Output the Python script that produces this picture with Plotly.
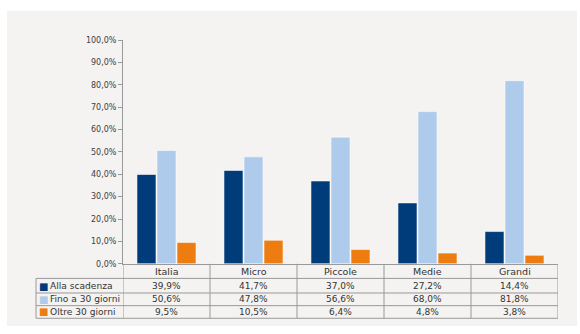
import plotly.graph_objects as go

categories = ["Italia", "Micro", "Piccole", "Medie", "Grandi"]
series_names = ["Alla scadenza", "Fino a 30 giorni", "Oltre 30 giorni"]
alla_scadenza = [39.9, 41.7, 37.0, 27.2, 14.4]
fino_30 = [50.6, 47.8, 56.6, 68.0, 81.8]
oltre_30 = [9.5, 10.5, 6.4, 4.8, 3.8]
y_ticks = [0, 10, 20, 30, 40, 50, 60, 70, 80, 90, 100]

colors = ["#003b7a", "#aecbeb", "#ee7d11"]
series_values = [alla_scadenza, fino_30, oltre_30]
BG = "#f4f3f1"
GRID = "#999999"
TXT = "#333333"
W, H = 580, 334
FONT = "DejaVu Sans"

def fmt(v):
    return f"{v:.1f}".replace(".", ",") + "%"

def py(pix):
    return (H - pix) / H

fig = go.Figure()
for name, vals, col in zip(series_names, series_values, colors):
    fig.add_trace(go.Bar(
        x=categories, y=vals, name=name,
        marker=dict(color=col, line=dict(color="rgba(255,255,255,0.55)", width=1)),
        showlegend=False, hoverinfo="x+y"))

# ---- data table drawn with annotations and shapes ----
header_y = py(275)
row_y = [py(290), py(303.5), py(316.5)]
row_lines = [282, 297, 310, 323]
annotations = []
shapes = [dict(type="rect", xref="paper", yref="paper",
               x0=7 / W, x1=577 / W, y0=py(331), y1=py(7),
               fillcolor=BG, line=dict(width=0), layer="below")]

for cat in categories:
    annotations.append(dict(x=cat, y=header_y, xref="x", yref="paper", text=cat,
                            showarrow=False, xanchor="center", yanchor="middle",
                            font=dict(family=FONT, size=9.5, color=TXT)))
for r, (name, vals, col) in enumerate(zip(series_names, series_values, colors)):
    annotations.append(dict(x=37 / W, y=row_y[r], xref="paper", yref="paper",
                            text="■", showarrow=False, xanchor="left", yanchor="middle",
                            font=dict(family=FONT, size=10, color=col)))
    annotations.append(dict(x=47.5 / W, y=row_y[r], xref="paper", yref="paper",
                            text=name, showarrow=False, xanchor="left", yanchor="middle",
                            font=dict(family=FONT, size=9.1, color=TXT)))
    for cat, v in zip(categories, vals):
        annotations.append(dict(x=cat, y=row_y[r], xref="x", yref="paper", text=fmt(v),
                                showarrow=False, xanchor="center", yanchor="middle",
                                font=dict(family=FONT, size=9, color=TXT)))

line_style = dict(color=GRID, width=1)
# horizontal table lines
for yl in row_lines:
    shapes.append(dict(type="line", xref="paper", yref="paper",
                       x0=36 / W, x1=558 / W, y0=py(yl), y1=py(yl), line=line_style))
# vertical lines at category boundaries
for k in range(len(categories) + 1):
    shapes.append(dict(type="line", xref="x", yref="paper",
                       x0=k - 0.5, x1=k - 0.5, y0=py(323), y1=py(267), line=line_style))
# left edge of legend column
shapes.append(dict(type="line", xref="paper", yref="paper",
                   x0=36 / W, x1=36 / W, y0=py(323), y1=py(282), line=line_style))

fig.update_layout(
    width=W, height=H,
    margin=dict(l=0, r=0, t=0, b=0),
    paper_bgcolor="white", plot_bgcolor=BG,
    barmode="group", bargap=0.31, bargroupgap=0.05,
    font=dict(family=FONT, size=8, color="#404040"),
    shapes=shapes, annotations=annotations,
    xaxis=dict(domain=[123 / W, 558 / W], range=[-0.5, len(categories) - 0.5],
               showticklabels=False, showline=True,
               linecolor=GRID, linewidth=1, ticks="", showgrid=False, zeroline=False),
    yaxis=dict(domain=[py(267), py(37)], range=[0, 100],
               tickvals=y_ticks, ticktext=[fmt(v) for v in y_ticks],
               showline=True, linecolor=GRID, linewidth=1, ticks="outside",
               ticklen=4, tickcolor=GRID, showgrid=False, zeroline=False,
               tickfont=dict(family=FONT, size=8, color="#404040")),
)

fig.write_html("out.html")
